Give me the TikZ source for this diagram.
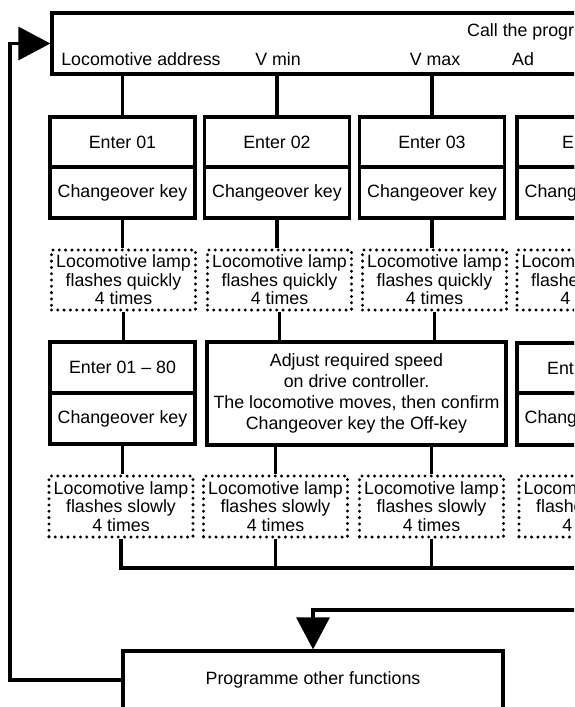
\documentclass[tikz,border=0pt]{standalone}
\usepackage{fontspec}
\setmainfont{Liberation Sans}
\usetikzlibrary{arrows.meta}
\newcommand\dfont{\fontsize{17.8}{18.5}\selectfont}
\newcommand\bfontx{\fontsize{17.8}{21}\selectfont}
\tikzset{
  solidbox/.style={draw, line width=3.2pt, minimum width=145pt, inner sep=0pt, font=\dfont, align=center},
  dotbox/.style={draw, line width=3.3pt, dash pattern=on 0pt off 6.3pt, line cap=round, minimum width=144pt, inner sep=0pt, font=\dfont, align=center},
  conn/.style={line width=3.2pt},
  lbl/.style={font=\dfont, inner sep=0pt},
  tip/.style={-{Triangle[length=32pt,width=33pt]}}
}
\begin{document}
\begin{tikzpicture}[x=1pt,y=-1pt]
\useasboundingbox (0,0) rectangle (574,707);
\clip (0,0) rectangle (574,707);
\fill[white] (0,0) rectangle (574,707);
% top box
\node[solidbox, minimum width=848pt, minimum height=61pt] (prog) at (476,43.5) {};
\node[lbl, anchor=west] (callt) at (467,32) {Call the progr};
\node[lbl] (la) at (141,59) {Locomotive address};
\node[lbl] (lvmin) at (278,59) {V min};
\node[lbl] (lvmax) at (435,59) {V max};
\node[lbl, anchor=west] (lad) at (512,59) {Ad};
% row A
\node[solidbox, minimum height=50pt] (e1) at (122.5,142) {Enter 01};
\node[solidbox, minimum height=51pt] (c1) at (122.5,192.5) {Changeover key};
\node[solidbox, minimum height=50pt] (e2) at (277,142) {Enter 02};
\node[solidbox, minimum height=51pt] (c2) at (277,192.5) {Changeover key};
\node[solidbox, minimum height=50pt] (e3) at (432,142) {Enter 03};
\node[solidbox, minimum height=51pt] (c3) at (432,192.5) {Changeover key};
\node[solidbox, minimum height=50pt] (e4) at (589.5,142) {};
\node[lbl, anchor=west] (e4t) at (562,142) {E};
\node[solidbox, minimum height=51pt] (c4) at (589.5,192.5) {Changeover key};
% row B
\node[dotbox, minimum height=60pt] (dB1) at (123.5,280) {Locomotive lamp\\flashes quickly\\4 times};
\node[dotbox, minimum height=60pt] (dB2) at (279.5,280) {Locomotive lamp\\flashes quickly\\4 times};
\node[dotbox, minimum height=60pt] (dB3) at (434.5,280) {Locomotive lamp\\flashes quickly\\4 times};
\node[dotbox, minimum height=60pt] (dB4) at (589,280) {Locomotive lamp\\flashes quickly\\4 times};
% row C
\node[solidbox, minimum height=51pt] (e5) at (122.5,367.5) {Enter 01 -- 80};
\node[solidbox, minimum height=51pt] (c5) at (122.5,418.5) {Changeover key};
\node[solidbox, minimum width=299pt, minimum height=103pt, font=\bfontx] (big) at (356.5,393.5)
  {Adjust required speed\\on drive controller.\\The locomotive moves, then confirm\\Changeover key the Off-key};
\node[solidbox, minimum height=50pt] (e6) at (589.5,368) {};
\node[lbl, anchor=west] (e6t) at (547,368) {Ent};
\node[solidbox, minimum height=52pt] (c6) at (589.5,419) {Changeover key};
% row D
\node[dotbox, minimum height=61pt] (dD1) at (121,506.5) {Locomotive lamp\\flashes slowly\\4 times};
\node[dotbox, minimum height=61pt] (dD2) at (275.5,506.5) {Locomotive lamp\\flashes slowly\\4 times};
\node[dotbox, minimum height=61pt] (dD3) at (431.5,506.5) {Locomotive lamp\\flashes slowly\\4 times};
\node[dotbox, minimum height=61pt] (dD4) at (591,506.5) {Locomotive lamp\\flashes slowly\\4 times};
% bottom box
\node[solidbox, minimum width=380pt, minimum height=58pt] (other) at (313,680) {Programme other functions};
% connectors
\draw[conn] (prog.south -| e1.north) -- (e1.north);
\draw[conn] (prog.south -| e2.north) -- (e2.north);
\draw[conn] (prog.south -| e3.north) -- (e3.north);
\draw[conn] (c1.south) -- (c1.south |- dB1.north);
\draw[conn] (c2.south) -- (c2.south |- dB2.north);
\draw[conn] (c3.south) -- (c3.south |- dB3.north);
\draw[conn] (dB1.south) -- (dB1.south |- e5.north);
\draw[conn] (dB2.south) -- (dB2.south |- big.north);
\draw[conn] (dB3.south) -- (dB3.south |- big.north);
\draw[conn] (c5.south) -- (c5.south |- dD1.north);
\draw[conn] (big.south -| dD2.north) -- (dD2.north);
\draw[conn] (big.south -| dD3.north) -- (dD3.north);
\coordinate (busE) at (600,568);
\draw[conn] (dD1.south) -- (dD1.south |- busE) -- (busE);
\draw[conn] (dD2.south) -- (dD2.south |- busE);
\draw[conn] (dD3.south) -- (dD3.south |- busE);
\coordinate (retE) at (600,610);
\draw[conn, tip] (retE) -- (retE -| other.north) -- (other.north);
\coordinate (lx) at (10,0);
\draw[conn, tip] (other.west) -- (other.west -| lx) |- (prog.west);
\end{tikzpicture}
\end{document}
